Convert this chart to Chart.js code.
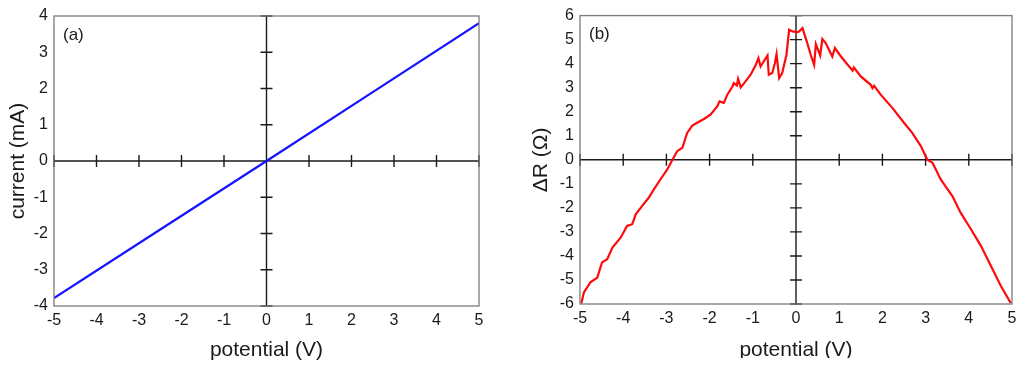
<!DOCTYPE html>
<html>
<head>
<meta charset="utf-8">
<script src="https://cdn.jsdelivr.net/npm/chart.js@4"></script>
<style>
    html, body { margin: 0; padding: 0; background: #fff; }
    .panel { position: absolute; top: 0; width: 512px; height: 368px; overflow: hidden; }
    #wrapA { left: 0; }
    #wrapB { left: 512px; height: 358px; }
    canvas { display: block; }
</style>
</head>
<body>
<div class="panel" id="wrapA"><canvas id="chartA" width="512" height="368"></canvas></div>
<div class="panel" id="wrapB"><canvas id="chartB" width="512" height="368"></canvas></div>
<script>
// panel (a): current vs potential
const potentialA = [-5, -2.5, 0, 2.5, 5];
const currentA = [-3.78, -1.89, 0, 1.9, 3.8];

// panel (b): delta R vs potential
const potentialB = [-4.97, -4.91, -4.76, -4.60, -4.49, -4.37, -4.25, -4.06, -3.91, -3.79,
    -3.71, -3.56, -3.41, -3.29, -3.14, -2.98, -2.86, -2.75, -2.63, -2.52,
    -2.40, -2.29, -2.13, -1.98, -1.82, -1.77, -1.67, -1.59, -1.47, -1.44,
    -1.37, -1.34, -1.28, -1.20, -1.05, -0.93, -0.87, -0.82, -0.66, -0.63,
    -0.55, -0.49, -0.45, -0.39, -0.32, -0.22, -0.16, -0.08, 0.03, 0.07,
    0.15, 0.25, 0.34, 0.42, 0.46, 0.56, 0.61, 0.69, 0.84, 0.90,
    1.04, 1.31, 1.34, 1.50, 1.73, 1.77, 1.81, 1.96, 2.23, 2.50,
    2.69, 2.89, 3.04, 3.16, 3.35, 3.62, 3.81, 4.05, 4.28, 4.51,
    4.74, 4.97];
const deltaR = [-5.98, -5.52, -5.10, -4.90, -4.27, -4.14, -3.65, -3.24, -2.75, -2.68,
    -2.27, -1.92, -1.58, -1.23, -0.82, -0.40, 0, 0.36, 0.50, 1.12,
    1.42, 1.54, 1.70, 1.88, 2.23, 2.43, 2.37, 2.71, 3.05, 3.19,
    3.09, 3.37, 3.01, 3.19, 3.54, 3.95, 4.23, 3.88, 4.34, 3.54,
    3.61, 4.02, 4.40, 3.40, 3.61, 4.37, 5.41, 5.34, 5.31, 5.34,
    5.48, 4.92, 4.37, 3.95, 4.81, 4.34, 5.03, 4.85, 4.30, 4.65,
    4.30, 3.71, 3.84, 3.47, 3.12, 2.98, 3.08, 2.71, 2.16, 1.54,
    1.12, 0.57, 0, -0.12, -0.82, -1.51, -2.20, -2.89, -3.58, -4.41,
    -5.24, -5.96];

const FONT = "'Liberation Sans', Arial, sans-serif";

// zero axes with crossing ticks, plot frame and panel tag
const crossAxes = {
    id: "crossAxes",
    beforeDatasetsDraw(chart, args, opts) {
        const { ctx, chartArea: a, scales: { x, y } } = chart;
        const x0 = x.getPixelForValue(0);
        const y0 = y.getPixelForValue(0);
        ctx.save();
        ctx.strokeStyle = "#1a1a1a";
        ctx.lineWidth = 1.4;
        ctx.beginPath();
        ctx.moveTo(x0, a.top);
        ctx.lineTo(x0, a.bottom);
        ctx.moveTo(a.left, y0);
        ctx.lineTo(a.right, y0);
        x.ticks.forEach(t => {
            const px = x.getPixelForValue(t.value);
            ctx.moveTo(px, y0 - 6);
            ctx.lineTo(px, y0 + 6);
        });
        y.ticks.forEach(t => {
            const py = y.getPixelForValue(t.value);
            ctx.moveTo(x0 - 6, py);
            ctx.lineTo(x0 + 6, py);
        });
        ctx.stroke();
        ctx.restore();
    },
    afterDatasetsDraw(chart, args, opts) {
        const { ctx, chartArea: a } = chart;
        ctx.save();
        ctx.strokeStyle = "#7a7a7a";
        ctx.lineWidth = 1.3;
        ctx.strokeRect(a.left, a.top, a.width, a.height);
        ctx.fillStyle = "#1a1a1a";
        ctx.font = "17px " + FONT;
        ctx.textBaseline = "middle";
        ctx.fillText(opts.tag, a.left + 9, a.top + 19);
        ctx.restore();
    }
};

function makePanel (canvas, { xs, ys, color, yMin, yMax, yTitle, tag,
                              yWidth, titlePad, rightPad, topPad, xHeight }) {
    return new Chart(canvas, {
        type: "scatter",
        data: {
            datasets: [{
                data: xs.map((v, i) => ({ x: v, y: ys[i] })),
                showLine: true,
                borderColor: color,
                borderWidth: 2.2,
                pointRadius: 0,
                tension: 0
            }]
        },
        options: {
            responsive: false,
            animation: false,
            layout: {
                padding: { top: topPad, right: rightPad, left: 0, bottom: 0 }
            },
            scales: {
                x: {
                    type: "linear",
                    min: -5,
                    max: 5,
                    ticks: {
                        stepSize: 1,
                        color: "#1a1a1a",
                        padding: 5,
                        font: { family: FONT, size: 16 }
                    },
                    grid: { display: false, drawTicks: false },
                    border: { display: false },
                    title: {
                        display: true,
                        text: "potential (V)",
                        color: "#1a1a1a",
                        padding: 5,
                        font: { family: FONT, size: 21 }
                    },
                    afterFit: (scale) => { scale.height = xHeight; }
                },
                y: {
                    type: "linear",
                    min: yMin,
                    max: yMax,
                    ticks: {
                        stepSize: 1,
                        color: "#1a1a1a",
                        padding: 6,
                        font: { family: FONT, size: 16 }
                    },
                    grid: { display: false, drawTicks: false },
                    border: { display: false },
                    title: {
                        display: true,
                        text: yTitle,
                        color: "#1a1a1a",
                        padding: titlePad,
                        font: { family: FONT, size: 21 }
                    },
                    afterFit: (scale) => { scale.width = yWidth; }
                }
            },
            plugins: {
                legend: { display: false },
                tooltip: { enabled: false },
                crossAxes: { tag: tag }
            }
        },
        plugins: [crossAxes]
    });
}

makePanel(document.getElementById("chartA"), {
    xs: potentialA, ys: currentA, color: "#1414ff", yMin: -4, yMax: 4,
    yTitle: "current (mA)", tag: "(a)",
    yWidth: 54, titlePad: 6, rightPad: 33, topPad: 16, xHeight: 62
});

makePanel(document.getElementById("chartB"), {
    xs: potentialB, ys: deltaR, color: "#ff0a0a", yMin: -6, yMax: 6,
    yTitle: "\u0394R (\u03A9)", tag: "(b)",
    yWidth: 68, titlePad: 17, rightPad: 12, topPad: 15, xHeight: 64
});
</script>
</body>
</html>
